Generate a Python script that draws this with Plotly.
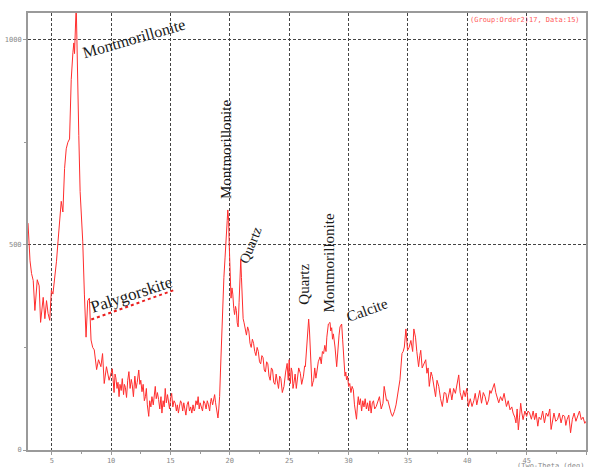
import plotly.graph_objects as go

two_theta = [
    3.0, 3.17, 3.3, 3.44, 3.58, 3.78, 3.94, 4.06, 4.28, 4.42, 4.56, 4.69, 4.83, 4.97, 5.1, 5.25, 5.4, 5.53,
    5.67, 5.8, 5.94, 6.08, 6.22, 6.36, 6.5, 6.56, 6.64, 6.78, 6.86, 6.92, 7.0, 7.06, 7.12, 7.19, 7.28, 7.39,
    7.5, 7.61, 7.75, 7.89, 8.03, 8.17, 8.31, 8.45, 8.58, 8.78, 8.94, 9.14, 9.28, 9.42, 9.61, 9.83,
    10.1, 10.2, 10.25, 10.33, 10.4, 10.5, 10.58, 10.67, 10.75, 10.85, 10.94, 11.05, 11.12, 11.2, 11.3, 11.4,
    11.5, 11.6, 11.7, 11.78, 11.88, 12.0, 12.1, 12.2, 12.33, 12.42, 12.5, 12.6, 12.7, 12.8, 12.89, 12.97,
    13.05, 13.17, 13.25, 13.35, 13.44, 13.55, 13.63, 13.72, 13.8, 13.9, 14.0, 14.1, 14.2, 14.28, 14.38,
    14.47, 14.56, 14.65, 14.75, 14.83, 14.92, 15.0, 15.1, 15.2, 15.3, 15.4, 15.5, 15.58, 15.67, 15.75,
    15.85, 15.94, 16.03, 16.12, 16.2, 16.3, 16.4, 16.5, 16.6, 16.7, 16.8, 16.9, 17.0, 17.06, 17.15, 17.25,
    17.33, 17.42, 17.5, 17.6, 17.7, 17.8, 17.9, 18.0, 18.1, 18.2, 18.3, 18.38, 18.44, 18.55, 18.63, 18.72,
    18.8, 18.9, 19.0, 19.07, 19.14, 19.21, 19.28, 19.35, 19.42, 19.5, 19.6, 19.7, 19.78, 19.83, 19.9, 19.95,
    20.02, 20.1, 20.18, 20.25, 20.33, 20.4, 20.48, 20.55, 20.62, 20.7, 20.78, 20.85, 20.92, 20.98, 21.05,
    21.12, 21.2, 21.3, 21.4, 21.5, 21.6, 21.7, 21.8, 21.9, 22.0, 22.1, 22.2, 22.3, 22.4, 22.5, 22.6, 22.7,
    22.8, 22.9, 23.0, 23.1, 23.2, 23.3, 23.4, 23.5, 23.6, 23.7, 23.8, 23.9, 24.0, 24.1, 24.2, 24.3, 24.42,
    24.56, 24.7, 24.83, 24.92, 25.0, 25.1, 25.18, 25.25, 25.32, 25.39, 25.5, 25.6, 25.67, 25.8, 25.94,
    26.05, 26.2, 26.3, 26.36, 26.44, 26.5, 26.57, 26.64, 26.71, 26.78, 26.85, 26.92, 27.0, 27.06, 27.15,
    27.25, 27.33, 27.45, 27.6, 27.7, 27.8, 27.9, 28.0, 28.1, 28.17, 28.3, 28.44, 28.5, 28.58, 28.65, 28.72,
    28.86, 29.0, 29.1, 29.2, 29.28, 29.42, 29.5, 29.56, 29.63, 29.7, 29.77, 29.83, 29.92, 30.0, 30.1, 30.2,
    30.3, 30.4, 30.5, 30.6, 30.67, 30.75, 30.82, 30.9, 31.0, 31.1, 31.2, 31.3, 31.4, 31.5, 31.6, 31.7, 31.8,
    31.9, 32.0, 32.1, 32.2, 32.33, 32.45, 32.6, 32.75, 32.9, 33.0, 33.1, 33.2, 33.3, 33.45, 33.58, 33.7,
    33.86, 34.0, 34.1, 34.2, 34.33, 34.5, 34.6, 34.7, 34.83, 34.97, 35.1, 35.25, 35.4, 35.5, 35.64, 35.75,
    35.9, 36.0, 36.08, 36.2, 36.36, 36.5, 36.6, 36.7, 36.8, 36.95, 37.06, 37.2, 37.33, 37.45, 37.6, 37.75,
    37.9, 38.05, 38.2, 38.3, 38.4, 38.55, 38.7, 38.85, 39.0, 39.15, 39.28, 39.4, 39.56, 39.7, 39.83, 39.95,
    40.1, 40.25, 40.4, 40.55, 40.67, 40.8, 40.94, 41.05, 41.2, 41.35, 41.5, 41.65, 41.8, 41.9, 42.0, 42.15,
    42.28, 42.4, 42.5, 42.65, 42.8, 42.95, 43.1, 43.2, 43.3, 43.45, 43.6, 43.75, 43.86, 44.0, 44.1, 44.2,
    44.3, 44.4, 44.5, 44.6, 44.7, 44.85, 45.0, 45.12, 45.25, 45.4, 45.55, 45.67, 45.8, 45.94, 46.05, 46.2,
    46.35, 46.5, 46.65, 46.8, 46.95, 47.06, 47.2, 47.3, 47.45, 47.6, 47.75, 47.9, 48.05, 48.2, 48.3, 48.4,
    48.55, 48.7, 48.85, 49.0, 49.15, 49.3, 49.45, 49.6, 49.75, 49.9, 50.0,
]

intensity = [
    553, 461, 430, 413, 340, 415, 400, 311, 372, 320, 364, 333, 316, 389, 380, 413, 460, 509,
    565, 606, 580, 686, 734, 750, 758, 863, 903, 968, 992, 966, 1048, 1085, 1000, 831, 766, 630,
    570, 509, 380, 275, 364, 370, 268, 250, 244, 196, 220, 203, 235, 162, 203, 170,
    198, 150, 140, 185, 176, 150, 165, 130, 160, 145, 174, 135, 160, 153, 128, 170,
    191, 150, 172, 159, 130, 180, 150, 165, 195, 160, 170, 142, 160, 120, 130, 150,
    110, 82, 120, 105, 130, 110, 140, 155, 125, 140, 123, 100, 130, 90, 120,
    105, 150, 115, 135, 123, 100, 125, 138, 105, 120, 114, 95, 110, 90, 105,
    120, 114, 95, 115, 98, 85, 110, 118, 95, 105, 90, 110, 95, 101, 120, 110,
    130, 100, 115, 106, 95, 120, 114, 100, 120, 110, 95, 118, 126, 110, 125, 135,
    115, 95, 78, 100, 130, 190, 251, 300, 348, 420, 470, 540, 560, 585, 560, 500,
    420, 370, 395, 380, 345, 330, 350, 340, 310, 300, 360, 440, 465, 420, 330,
    320, 310, 290, 280, 300, 290, 260, 250, 270, 260, 240, 230, 250, 240, 215, 210, 230,
    225, 195, 190, 215, 210, 180, 170, 200, 195, 165, 160, 185, 162, 150, 180, 174, 140,
    155, 190, 211, 170, 220, 162, 200, 190, 150, 162, 185, 150, 170, 200, 187,
    160, 180, 205, 203, 240, 275, 300, 319, 290, 251, 190, 155, 165, 170, 200,
    175, 190, 215, 227, 210, 240, 235, 255, 240, 275, 307, 311, 290, 298, 270, 283,
    251, 203, 251, 280, 300, 307, 270, 235, 200, 180, 190, 171, 180, 155, 162, 140,
    155, 147, 110, 90, 75, 110, 130, 110, 125, 95, 120, 105, 125, 100, 115, 95, 120,
    90, 115, 120, 100, 106, 120, 130, 100, 114, 155, 130, 120, 122, 100, 90, 82,
    94, 110, 130, 150, 171, 235, 240, 251, 295, 243, 250, 267, 240, 295, 275, 240,
    203, 230, 243, 200, 211, 220, 187, 200, 155, 190, 179, 150, 130, 170, 155, 125,
    106, 140, 138, 115, 130, 150, 122, 150, 138, 160, 183, 140, 122, 145, 130, 150,
    106, 125, 106, 120, 138, 110, 130, 145, 114, 140, 130, 110, 122, 145, 138, 150,
    162, 140, 130, 115, 130, 120, 138, 115, 106, 120, 98, 105, 90, 80, 66, 100,
    49, 80, 114, 90, 74, 95, 82, 95, 90, 75, 95, 74, 90, 58, 80, 74,
    95, 66, 90, 82, 100, 50, 80, 90, 70, 74, 90, 66, 85, 82, 60, 74,
    85, 42, 75, 90, 70, 82, 95, 74, 80, 65, 70,
]

x_ticks = [5, 10, 15, 20, 25, 30, 35, 40, 45, 50]
x_tick_labels = ["5", "10", "15", "20", "25", "30", "35", "40", "45", "50"]
y_ticks = [0, 500, 1000]
y_tick_labels = ["0", "500", "1000"]

# phase labels: text, 2-theta position, intensity position, rotation
label_texts = ["Montmorillonite", "Palygorskite", "Montmorillonite", "Quartz",
               "Quartz", "Montmorillonite", "Calcite"]
label_x = [11.9, 11.75, 19.7, 21.75, 26.25, 28.33, 31.6]
label_y = [1003, 378, 734, 498, 403, 456, 340]
label_angle = [-16, -18, -90, -68, -90, -90, -20]
label_size = [16, 17, 15, 14, 15, 15, 15]

# red spell-check style squiggle under "Palygorskite" (2-theta, intensity)
squiggle_x = [8.33, 15.33]
squiggle_y = [318, 390]

fig = go.Figure()
fig.add_trace(go.Scatter(
    x=two_theta, y=intensity, mode="lines",
    line=dict(color="rgb(255,45,45)", width=1),
    showlegend=False, hoverinfo="skip",
))

for t, lx, ly, ang, sz in zip(label_texts, label_x, label_y, label_angle, label_size):
    fig.add_annotation(
        x=lx, y=ly, xref="x", yref="y", text=t, showarrow=False,
        textangle=ang, font=dict(family="Liberation Serif", size=sz, color="#1a1a1a"),
    )

fig.add_shape(type="line", xref="x", yref="y",
              x0=squiggle_x[0], y0=squiggle_y[0], x1=squiggle_x[1], y1=squiggle_y[1],
              line=dict(color="rgb(235,30,30)", width=2, dash="dot"))

fig.add_annotation(
    xref="paper", yref="paper", x=1.0, y=1.0, xanchor="right", yanchor="top",
    xshift=-4, yshift=-1, text="(Group:Order2)17, Data:15)", showarrow=False,
    font=dict(family="DejaVu Sans Mono", size=7, color="rgb(255,90,90)"),
)

fig.add_annotation(
    xref="paper", yref="paper", x=1.0, y=0, xanchor="right", yanchor="top",
    yshift=-10, text="(Two-Theta (deg)", showarrow=False,
    font=dict(family="DejaVu Sans Mono", size=7, color="#888"),
)

axis_common = dict(
    showgrid=True, gridcolor="#444", gridwidth=1, griddash="3px,2px",
    showline=True, linecolor="#9a9a9a", linewidth=2, mirror=True,
    ticks="outside", ticklen=3, tickcolor="#9a9a9a", tickwidth=1,
    tickfont=dict(family="DejaVu Sans Mono", size=7, color="#888"),
    zeroline=False,
)

fig.update_xaxes(range=[3, 50], tickvals=x_ticks, ticktext=x_tick_labels,
                 minor=dict(ticks="outside", ticklen=2, tickcolor="#9a9a9a", dtick=2.5, tick0=0,
                            showgrid=False),
                 **axis_common)
fig.update_yaxes(range=[0, 1065], tickvals=y_ticks, ticktext=y_tick_labels,
                 minor=dict(ticks="outside", ticklen=2, tickcolor="#9a9a9a", dtick=250, tick0=0,
                            showgrid=False),
                 **axis_common)

fig.update_layout(
    width=590, height=467,
    margin=dict(l=28, r=2, t=13, b=13),
    plot_bgcolor="white", paper_bgcolor="white",
)

fig.write_html("out.html", config={"displayModeBar": False},
               post_script="document.body.style.margin='0';")
